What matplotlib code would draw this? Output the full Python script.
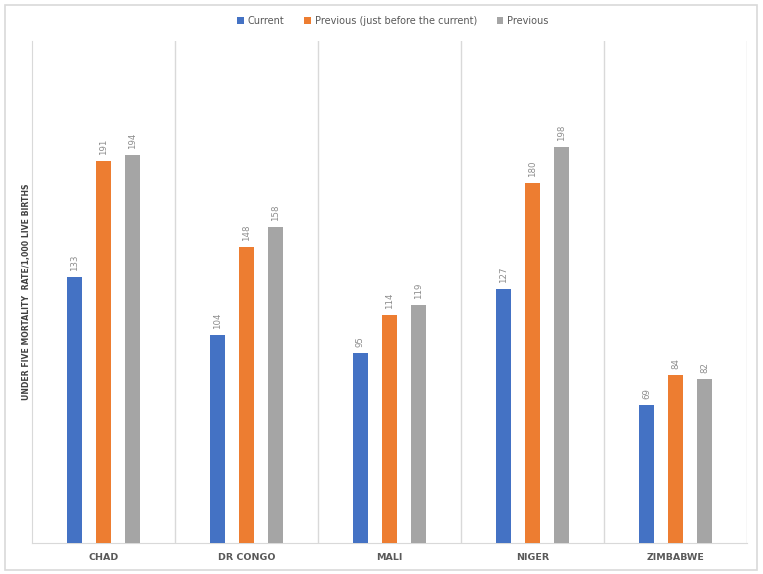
import numpy as np
import matplotlib
matplotlib.use("Agg")
import matplotlib.pyplot as plt
from matplotlib.patches import Rectangle

countries = ["CHAD", "DR CONGO", "MALI", "NIGER", "ZIMBABWE"]
current = [133, 104, 95, 127, 69]
prev_just_before = [191, 148, 114, 180, 84]
previous = [194, 158, 119, 198, 82]

series = [("Current", current, "#4472C4"),
          ("Previous (just before the current)", prev_just_before, "#ED7D31"),
          ("Previous", previous, "#A5A5A5")]

fig = plt.figure(figsize=(7.63, 5.74), dpi=100)
ax = fig.add_axes([32/763, 31/574, 715/763, 502/574])

x = np.arange(len(countries))
w = 0.105
step = 0.203
for i, (name, vals, col) in enumerate(series):
    pos = x + (i - 1) * step
    bars = ax.bar(pos, vals, width=w, color=col, label=name, zorder=3)
    for b, v in zip(bars, vals):
        ax.text(b.get_x() + b.get_width()/2, v + 3, str(v), rotation=90,
                ha="center", va="bottom", fontsize=6.2, color="#8c8c8c")

ax.set_xlim(-0.5, len(countries) - 0.5)
ax.set_ylim(0, 251)
ax.set_yticks([])
ax.set_xticks(x)
ax.set_xticklabels(countries, fontsize=6.8, color="#595959", fontweight="semibold")
ax.tick_params(axis="x", length=0, pad=7)
for b in np.arange(0.5, len(countries) - 0.5, 1):
    ax.axvline(b, color="#d9d9d9", lw=1, zorder=1)
for s in ["top", "right"]:
    ax.spines[s].set_visible(False)
ax.spines["left"].set_color("#d9d9d9")
ax.spines["bottom"].set_color("#d9d9d9")
ax.axvline(len(countries) - 0.5, color="#d9d9d9", lw=1, zorder=1)

ax.set_ylabel("UNDER FIVE MORTALITY  RATE/1,000 LIVE BIRTHS", fontsize=5.6,
              color="#404040", fontweight="semibold", labelpad=1)

fig.legend(loc="upper center", bbox_to_anchor=(0.515, 0.988), ncol=3, frameon=False,
           fontsize=7, handlelength=0.7, handleheight=0.7, columnspacing=2.0,
           handletextpad=0.4, labelcolor="#595959")

fig.patches.append(Rectangle((5/763, 4/574), 752/763, 565/574, transform=fig.transFigure,
                             fill=False, edgecolor="#d9d9d9", lw=1.2))

fig.savefig("out.png", dpi=100)
